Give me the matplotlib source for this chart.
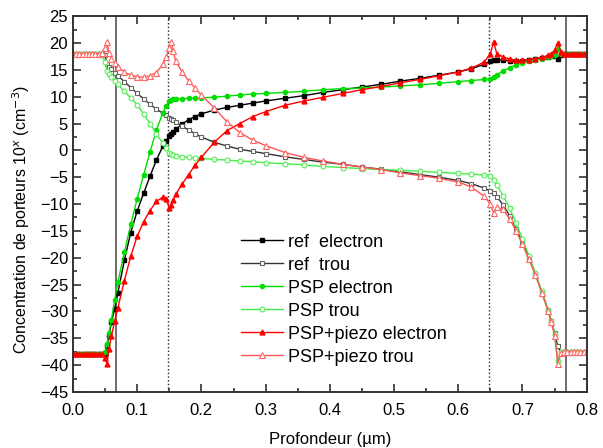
import matplotlib
matplotlib.use("Agg")
import matplotlib.pyplot as plt
from matplotlib.ticker import MultipleLocator

plt.rcParams['font.family'] = ['Liberation Sans', 'DejaVu Sans']

# profondeur (um)
depth = [0.000, 0.005, 0.010, 0.015, 0.020, 0.025, 0.030, 0.035, 0.040, 0.045,
         0.050, 0.053, 0.056, 0.060, 0.065, 0.070, 0.080, 0.090, 0.100, 0.110,
         0.120, 0.130, 0.140, 0.145, 0.150, 0.153, 0.156, 0.160, 0.170, 0.180,
         0.190, 0.200, 0.220, 0.240, 0.260, 0.280, 0.300, 0.330, 0.360, 0.390,
         0.420, 0.450, 0.480, 0.510, 0.540, 0.570, 0.600, 0.620, 0.640, 0.650,
         0.655, 0.660, 0.670, 0.680, 0.690, 0.700, 0.710, 0.720, 0.730, 0.740,
         0.745, 0.750, 0.755, 0.760,
         0.765, 0.770, 0.775, 0.780, 0.785, 0.790, 0.795, 0.800]

ref_e = [-38, -38, -38, -38, -38, -38, -38, -38, -38, -38,
         -38, -36.5, -34.5, -32, -29.5, -26.5, -20.5, -15.3, -11.3, -8.0,
         -4.8, -1.8, 0.8, 1.8, 2.6, 3.0, 3.4, 3.9, 4.9, 5.7,
         6.3, 6.8, 7.5, 8.0, 8.4, 8.8, 9.2, 9.7, 10.2, 10.8,
         11.3, 11.8, 12.3, 12.9, 13.4, 14.0, 14.6, 15.2, 16.0, 16.6,
         16.9, 16.9, 16.8, 16.7, 16.6, 16.6, 16.8, 17.0, 17.2, 17.4,
         17.5, 17.5, 17.0, 17.8,
         18, 18, 18, 18, 18, 18, 18, 18]

ref_h = [18, 18, 18, 18, 18, 18, 18, 18, 18, 18,
         17.8, 16.0, 15.6, 15.1, 14.5, 13.9, 12.8, 11.7, 10.6, 9.6,
         8.6, 7.7, 6.9, 6.5, 6.1, 5.9, 5.7, 5.3, 4.5, 3.8,
         3.1, 2.5, 1.5, 0.8, 0.2, -0.2, -0.6, -1.2, -1.7, -2.2,
         -2.6, -3.1, -3.5, -4.0, -4.5, -5.0, -5.6, -6.2, -7.0, -7.6,
         -8.0, -8.6, -10.2, -12.2, -14.6, -17.2, -20.0, -23.0, -26.3, -29.8,
         -31.8, -34.0, -36.5, -37.8,
         -37.5, -37.5, -37.5, -37.5, -37.5, -37.5, -37.5, -37.5]

psp_e = [-38, -38, -38, -38, -38, -38, -38, -38, -38, -38,
         -37.5, -36, -34, -31.5, -27.8, -24.5, -19.0, -13.8, -9.0, -4.6,
         -0.3, 3.8, 7.0, 8.3, 9.2, 9.4, 9.5, 9.6, 9.6, 9.7,
         9.7, 9.8, 9.9, 10.1, 10.3, 10.5, 10.6, 10.8, 11.0, 11.3,
         11.5, 11.6, 11.8, 12.0, 12.2, 12.5, 12.8, 13.0, 13.2, 13.3,
         13.6, 14.1, 14.8, 15.4, 15.9, 16.3, 16.6, 16.9, 17.1, 17.4,
         17.6, 17.8, 18.8, 18.0,
         18, 18, 18, 18, 18, 18, 18, 18]

psp_h = [18, 18, 18, 18, 18, 18, 18, 18, 18, 17.8,
         16.5, 14.8, 14.2, 13.6, 13.0, 12.3, 11.0, 9.8, 8.5, 6.8,
         5.0, 3.1, 1.3, 0.4, -0.4, -0.7, -0.9, -1.0, -1.2, -1.3,
         -1.4, -1.5, -1.7, -1.8, -2.0, -2.1, -2.3, -2.5, -2.7, -3.0,
         -3.2, -3.4, -3.6, -3.7, -3.9, -4.1, -4.3, -4.4, -4.6, -4.7,
         -5.5, -6.5, -8.5, -10.8, -13.5, -16.5, -19.6, -22.8, -26.2, -29.8,
         -31.8, -34.2, -39.3, -37.6,
         -37.5, -37.5, -37.5, -37.5, -37.5, -37.5, -37.5, -37.5]

pz_e = [-38, -38, -38, -38, -38, -38, -38, -38, -38, -38,
        -38.6, -39.8, -37.0, -34.5, -31.8, -29.3, -24.3, -19.7, -16.0, -13.3,
        -11.2, -9.5, -8.7, -9.0, -10.8, -10.2, -9.2, -8.2, -6.3, -4.5,
        -2.8, -1.3, 1.5, 3.7, 5.0, 6.3, 7.2, 8.4, 9.2, 9.9,
        10.6, 11.3, 11.9, 12.6, 13.2, 13.9, 14.6, 15.3, 16.4, 18.0,
        20.2, 18.0, 17.4, 17.0, 16.8, 16.8, 16.9, 17.1, 17.3, 17.7,
        18.0, 18.7, 20.0, 18.3,
        18, 18, 18, 18, 18, 18, 18, 18]

pz_h = [18, 18, 18, 18, 18, 18, 18, 18, 18, 18.2,
        19.0, 20.2, 18.2, 17.0, 16.2, 15.6, 14.6, 14.0, 13.7, 13.6,
        13.9, 14.5, 16.0, 17.3, 19.0, 20.2, 18.5, 16.6, 14.6, 13.0,
        11.6, 10.3, 7.9, 5.3, 3.3, 1.9, 0.9, -0.4, -1.3, -2.0,
        -2.6, -3.1, -3.6, -4.2, -4.7, -5.2, -5.9, -6.8, -8.5, -10.0,
        -11.7, -10.6, -11.0, -12.8, -15.0, -17.5, -20.3, -23.2, -26.5, -30.0,
        -32.0, -34.5, -39.7, -37.8,
        -37.5, -37.5, -37.5, -37.5, -37.5, -37.5, -37.5, -37.5]

fig = plt.figure(figsize=(6.03, 4.48), dpi=100)
ax = fig.add_axes([0.121, 0.125, 0.852, 0.839])

# interfaces
ax.axvline(0.067, color='#555555', lw=1.2, zorder=1)
ax.axvline(0.768, color='#555555', lw=1.2, zorder=1)
ax.axvline(0.148, color='#222222', lw=1, ls=':', zorder=1)
ax.axvline(0.648, color='#222222', lw=1, ls=':', zorder=1)

ax.plot(depth, ref_e, color='black', lw=1, marker='s', ms=3, label='ref  electron')
ax.plot(depth, ref_h, color='#333333', lw=1, marker='s', ms=3.5, mfc='white',
        mec='#666666', mew=0.8, label='ref  trou')
ax.plot(depth, psp_e, color='#00dd00', lw=1, marker='o', ms=3, label='PSP electron')
ax.plot(depth, psp_h, color='#44ee44', lw=1, marker='o', ms=3.5, mfc='white',
        mec='#55ee55', mew=0.8, label='PSP trou')
ax.plot(depth, pz_e, color='#ff0000', lw=1, marker='^', ms=3.5, label='PSP+piezo electron')
ax.plot(depth, pz_h, color='#ff5555', lw=1, marker='^', ms=4, mfc='white',
        mec='#ff6666', mew=0.8, label='PSP+piezo trou')

ax.set_xlim(0, 0.8)
ax.set_ylim(-45, 25)
ax.xaxis.set_major_locator(MultipleLocator(0.1))
ax.xaxis.set_minor_locator(MultipleLocator(0.05))
ax.yaxis.set_major_locator(MultipleLocator(5))
ax.yaxis.set_minor_locator(MultipleLocator(2.5))
ax.set_xticklabels([f"{v:.1f}" for v in ax.get_xticks()])
ax.tick_params(which='both', direction='in', top=True, right=True, color='#333333',
               labelsize=12, width=1.2)
ax.tick_params(which='major', length=6)
ax.tick_params(which='minor', length=3)
ax.tick_params(axis='x', pad=8)
for spine in ax.spines.values():
    spine.set_color('#333333')
    spine.set_linewidth(1.4)

ax.set_xlabel('Profondeur (µm)', fontsize=12, labelpad=10)
ax.set_ylabel('Concentration de porteurs 10$^x$ (cm$^{-3}$)', fontsize=11.5)
ax.yaxis.set_label_coords(-0.08, 0.46)

ax.legend(loc='upper left', bbox_to_anchor=(0.31, 0.445), frameon=False, fontsize=13,
          handlelength=2.3, numpoints=1, labelspacing=0.33, handletextpad=0.3,
          borderpad=0)

plt.savefig('out.png', dpi=100)
